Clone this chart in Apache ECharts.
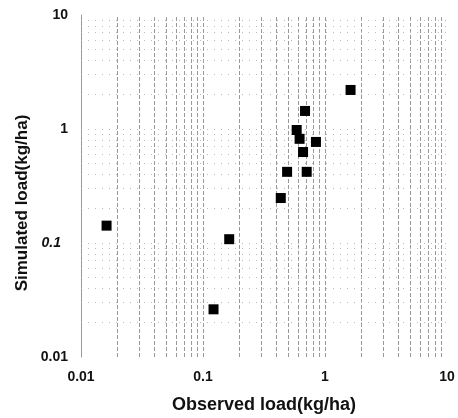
<!DOCTYPE html>
<html><head><meta charset="utf-8">
<script src="https://cdn.jsdelivr.net/npm/echarts@6/dist/echarts.min.js"></script>
<style>html,body{margin:0;padding:0;background:#fff}#c{width:458px;height:418px}</style>
</head><body><div id="c"></div>
<script>
var observed  = [0.0162, 0.164, 0.122, 0.434, 0.489, 0.708, 0.661, 0.586, 0.619, 0.843, 0.686, 1.62];
var simulated = [0.142,  0.108, 0.0262, 0.248, 0.421, 0.421, 0.628, 0.98, 0.82, 0.77, 1.44, 2.2];
var tickLabels = ['0.01', '0.1', '1', '10'];
var minorGrid = [0.02,0.03,0.04,0.05,0.06,0.07,0.08,0.09,0.2,0.3,0.4,0.5,0.6,0.7,0.8,0.9,2,3,4,5,6,7,8,9];

function fmt(v){ return String(+(+v).toPrecision(3)); }

var chart = echarts.init(document.getElementById('c'), null, {renderer:'canvas'});
var pts = observed.map(function(x,i){ return [x, simulated[i]]; });
var vLines = minorGrid.map(function(v){ return {xAxis: v}; }).concat([{xAxis:0.1},{xAxis:1}]);
var hLines = minorGrid.map(function(v){ return {yAxis: v}; }).concat([{yAxis:0.1},{yAxis:1}]);
var FONT = '"Liberation Sans", Arial, sans-serif';

chart.setOption({
  animation: false,
  grid: {left: 81, right: 11, top: 15, bottom: 61, containLabel: false},
  xAxis: {
    type: 'log', logBase: 10, min: 0.01, max: 10,
    axisLine: {show: false}, axisTick: {show: false}, splitLine: {show: false},
    axisLabel: {margin: 13, fontFamily: FONT, fontSize: 14, fontWeight: 'bold', color: '#111',
      formatter: function(v){ var s = fmt(v); return tickLabels.indexOf(s) >= 0 ? s : ''; }}
  },
  yAxis: {
    type: 'log', logBase: 10, min: 0.01, max: 10,
    axisLine: {show: true, lineStyle: {color: '#999', width: 1}}, axisTick: {show: false}, splitLine: {show: false},
    axisLabel: {margin: 13, fontFamily: FONT, fontSize: 14, fontWeight: 'bold', color: '#111',
      formatter: function(v){ var s = fmt(v); if (tickLabels.indexOf(s) < 0) return ''; return s === '0.1' ? '{i|' + s + '}' : s; },
      rich: {i: {fontStyle: 'italic', fontFamily: FONT, fontSize: 14, fontWeight: 'bold', color: '#111', padding: [0, 7, 0, 0]}}}
  },
  graphic: [
    {type: 'text', x: 264, y: 405, style: {text: 'Observed load(kg/ha)', font: 'bold 18px ' + FONT, fill: '#111', align: 'center', verticalAlign: 'middle'}},
    {type: 'text', x: 22, y: 203, rotation: Math.PI/2, style: {text: 'Simulated load(kg/ha)', font: 'bold 17px ' + FONT, fill: '#111', align: 'center', verticalAlign: 'middle'}}
  ],
  series: [
    {type: 'scatter', silent: true, data: [], markLine: {silent: true, symbol: 'none', label: {show: false},
      lineStyle: {color: '#999', width: 1, type: [4, 2]}, data: vLines}},
    {type: 'scatter', silent: true, data: [], markLine: {silent: true, symbol: 'none', label: {show: false},
      lineStyle: {color: '#bbb', width: 1, type: [1, 6]}, data: hLines}},
    {type: 'scatter', symbol: 'rect', symbolSize: 10, itemStyle: {color: '#000', opacity: 1}, data: pts, z: 5}
  ]
});
</script></body></html>
